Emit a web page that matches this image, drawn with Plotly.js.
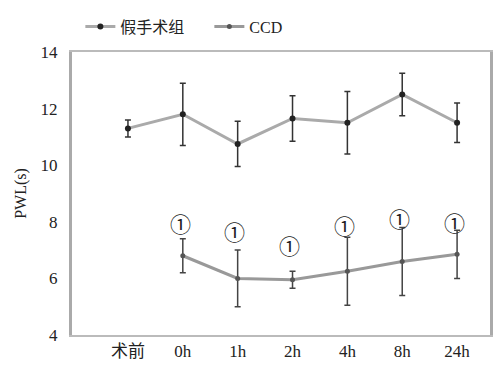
<!DOCTYPE html>
<html><head><meta charset="utf-8">
<script src="https://cdn.plot.ly/plotly-3.0.1.min.js"></script>
<style>html,body{margin:0;padding:0;background:#fff}#c{width:500px;height:365px}</style>
</head><body><div id="c"></div>
<script>
const categories = ["术前","0h","1h","2h","4h","8h","24h"];
const shamMean = [11.3, 11.8, 10.75, 11.65, 11.5, 12.5, 11.5];
const shamErr  = [0.3, 1.1, 0.8, 0.8, 1.1, 0.75, 0.7];
const ccdCats  = ["0h","1h","2h","4h","8h","24h"];
const ccdMean  = [6.8, 6.0, 5.95, 6.25, 6.6, 6.85];
const ccdErr   = [0.6, 1.0, 0.3, 1.2, 1.2, 0.85];
const markLabel = ["①","①","①","①","①","①"];
const markY     = [7.97, 7.68, 7.19, 7.89, 8.13, 7.99];
const yTicks = [4,6,8,10,12,14];

const idx = c => categories.indexOf(c);
const serif = "Liberation Serif";
const mixed = "Liberation Serif, Noto Sans CJK SC";

const traces = [
  {x: categories.map(idx), y: shamMean, name: "假手术组", type: "scatter", mode: "lines+markers",
   line: {color: "#aaaaaa", width: 3}, marker: {color: "#222", size: 6},
   error_y: {type: "data", array: shamErr, color: "#333", thickness: 1.5, width: 3}},
  {x: ccdCats.map(idx), y: ccdMean, name: "CCD", type: "scatter", mode: "lines+markers",
   line: {color: "#999999", width: 3}, marker: {color: "#555", size: 5},
   error_y: {type: "data", array: ccdErr, color: "#444", thickness: 1.5, width: 3}}
];

const annotations = ccdCats.map((c, i) => ({
  x: idx(c) - 0.05, y: markY[i], xref: "x", yref: "y", text: markLabel[i], showarrow: false,
  font: {family: "Noto Sans CJK SC", size: 21, color: "#222"}
}));

const layout = {
  width: 500, height: 365,
  margin: {l: 72, r: 10, t: 47, b: 30},
  paper_bgcolor: "#fff", plot_bgcolor: "#fff",
  showlegend: true,
  legend: {orientation: "h", x: 0.02, xanchor: "left", y: 1.03, yanchor: "bottom",
           font: {family: mixed, size: 16, color: "#222"},
           entrywidth: 84, entrywidthmode: "pixels", bgcolor: "rgba(0,0,0,0)"},
  xaxis: {range: [-1.02, 6.6], tickmode: "array", tickvals: categories.map(idx), ticktext: categories,
          showgrid: false, zeroline: false, showline: true, linecolor: "#bbb", linewidth: 2,
          mirror: true, ticks: "", tickfont: {family: mixed, size: 17, color: "#222"}},
  yaxis: {range: [4, 14], tickvals: yTicks, showgrid: false, zeroline: false,
          showline: true, linecolor: "#aaa", linewidth: 3, mirror: true, ticks: "",
          ticklabelstandoff: 8,
          tickfont: {family: serif, size: 17, color: "#222"},
          title: {text: "PWL(s)", font: {family: serif, size: 16, color: "#222"}, standoff: 10}},
  annotations: annotations
};
Plotly.newPlot("c", traces, layout, {displayModeBar: false, staticPlot: true});
</script></body></html>
